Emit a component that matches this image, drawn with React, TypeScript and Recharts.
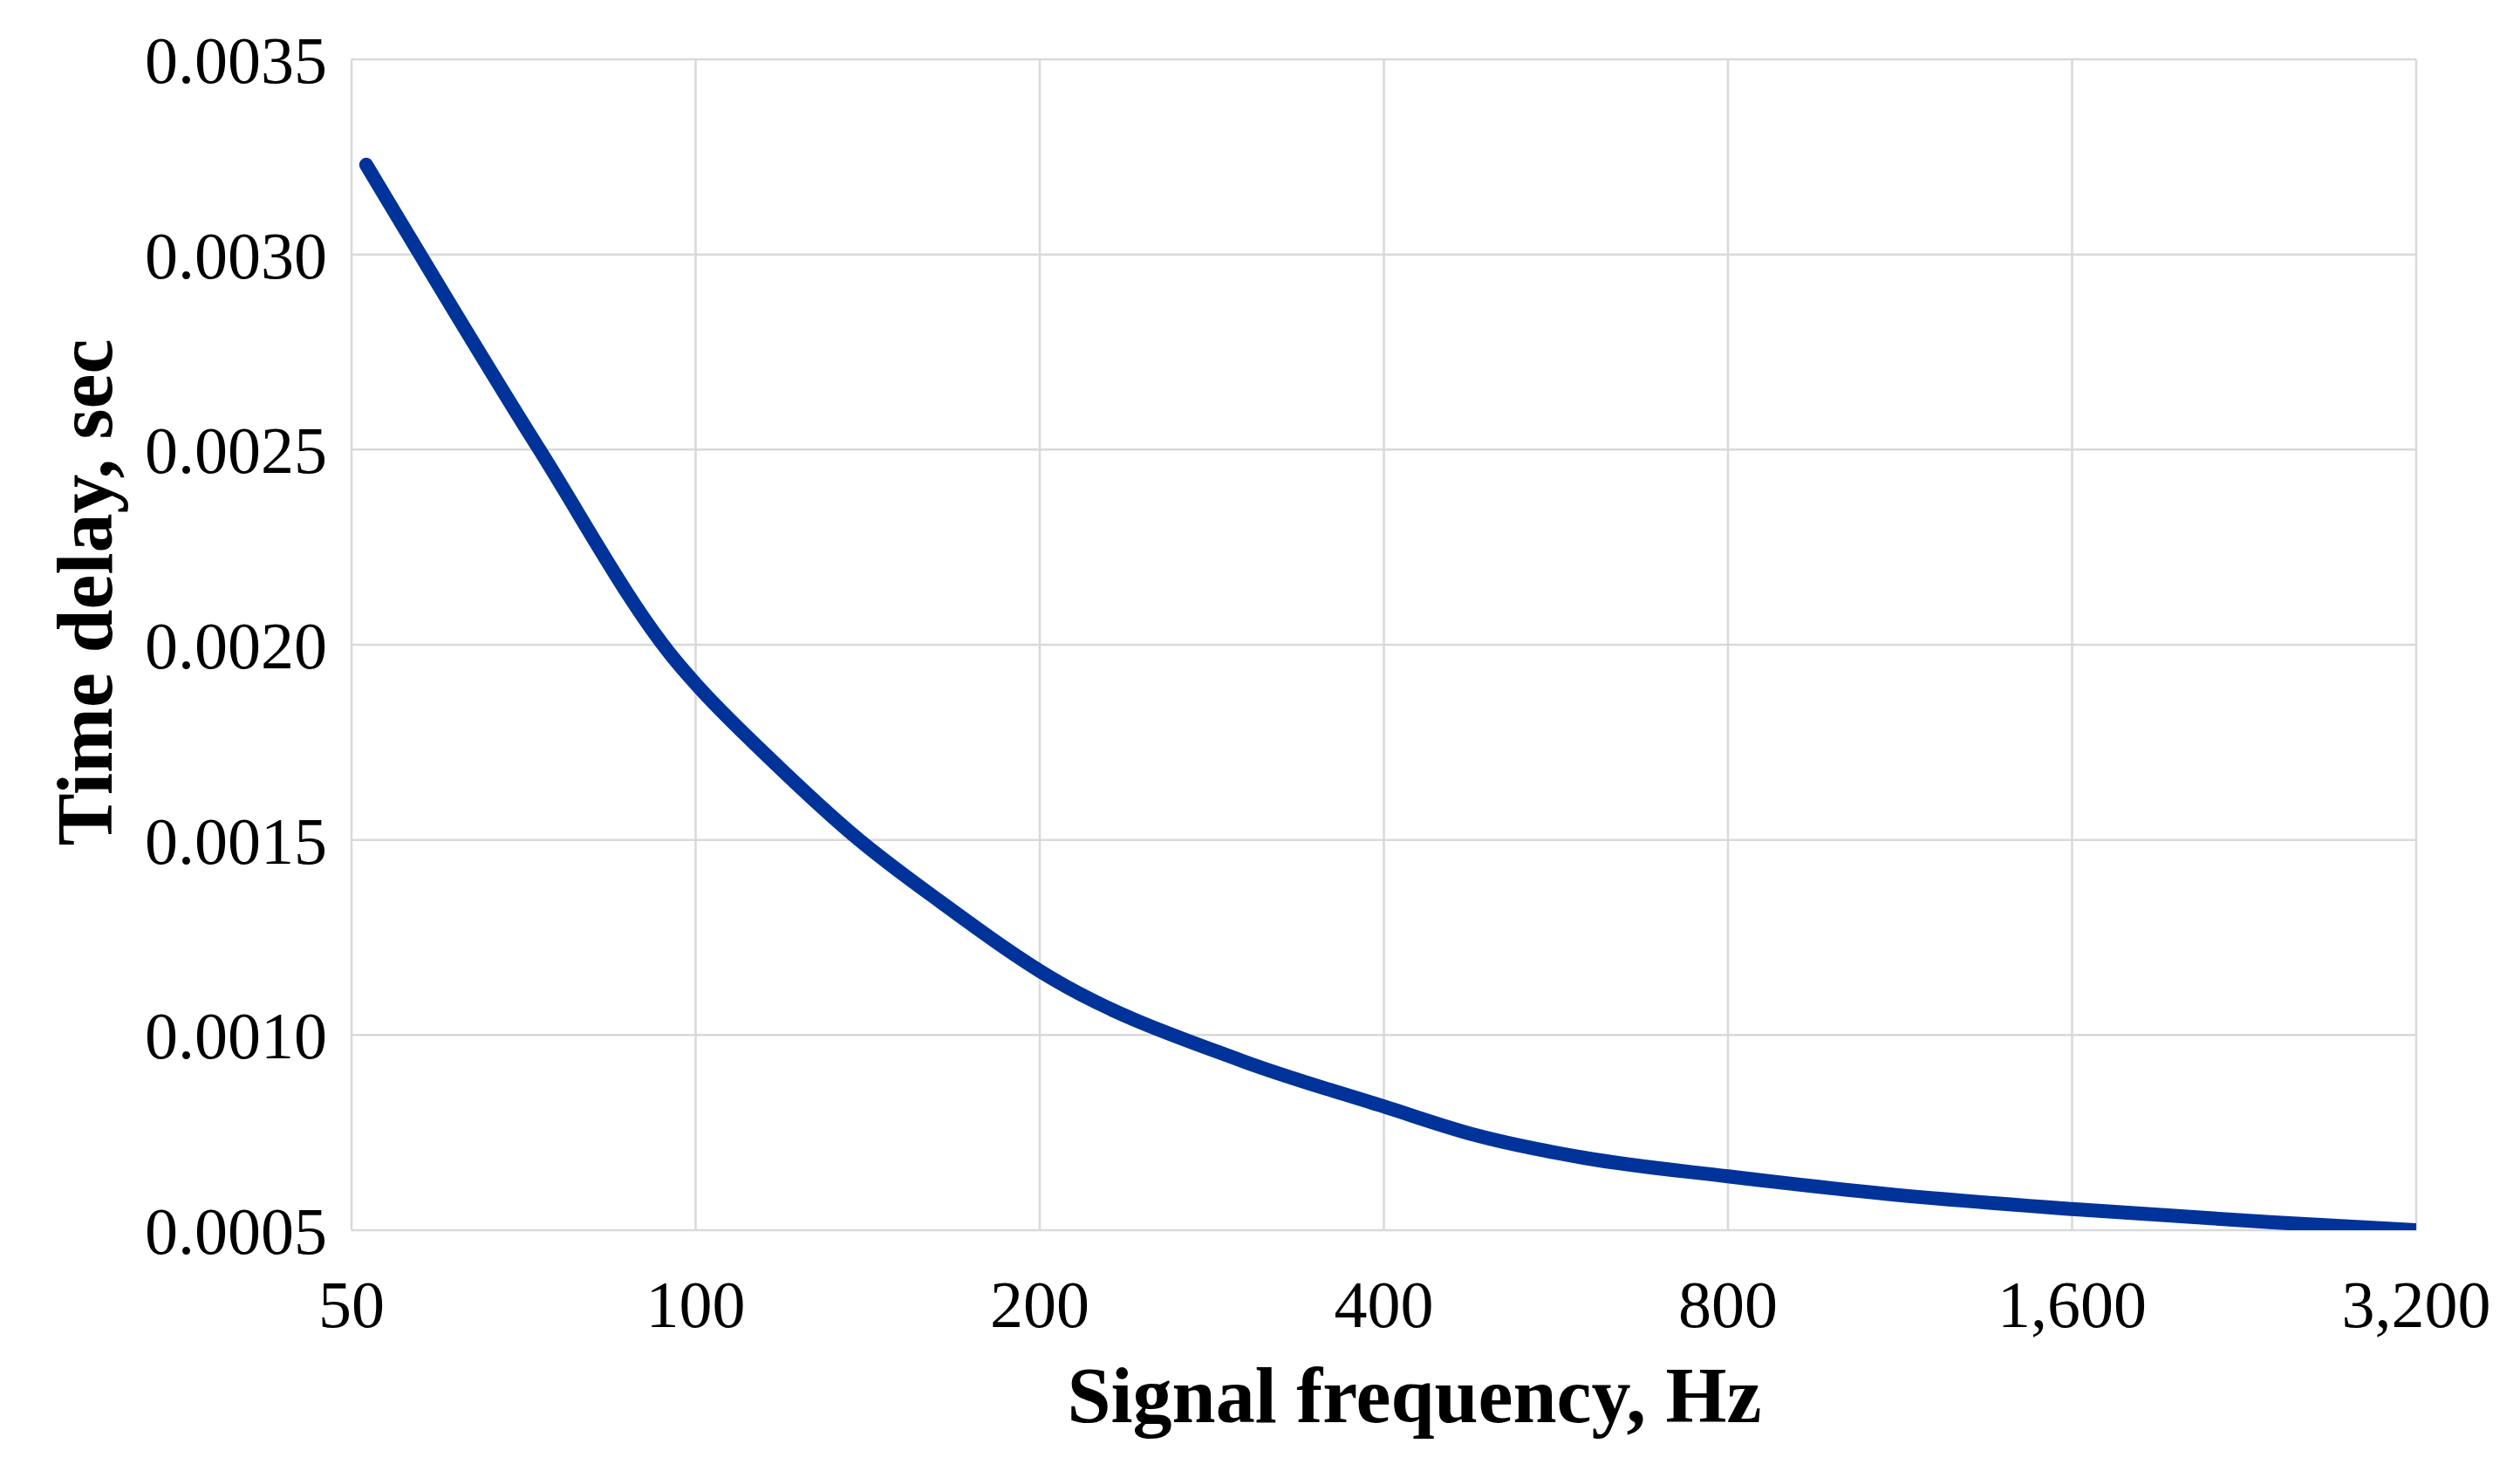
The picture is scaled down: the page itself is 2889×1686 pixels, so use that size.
import React from 'react';
import { LineChart, Line, XAxis, YAxis, CartesianGrid, Label } from 'recharts';

const FREQUENCIES = [51.5, 73, 96, 100, 116, 139, 164, 205, 300, 400, 482, 600, 800, 1100, 1600, 2400, 3200];
const DELAYS = [0.00323, 0.0025, 0.00196, 0.0019, 0.00171, 0.0015, 0.00134, 0.001145, 0.000935, 0.000817, 0.000743, 0.000685, 0.000638, 0.000593, 0.000554, 0.00052, 0.0005];

const X_TICKS = [50, 100, 200, 400, 800, 1600, 3200];
const Y_TICKS = [0.0005, 0.001, 0.0015, 0.002, 0.0025, 0.003, 0.0035];

const data = FREQUENCIES.map((f, i) => ({ freq: f, delay: DELAYS[i] }));

const FONT = '"Liberation Serif", "Times New Roman", serif';
const tickStyle = { fontFamily: FONT, fontSize: 76, fill: '#000' };

export default function App() {
  return (
    <div style={{ position: 'absolute', left: 0, top: 0, width: 2889, height: 1686, background: '#fff' }}>
      <LineChart width={2889} height={1686} data={data} margin={{ top: 68, right: 119, bottom: 0, left: 0 }}>
        <CartesianGrid stroke="#d9d9d9" strokeWidth={2.5} />
        <XAxis
          dataKey="freq"
          type="number"
          scale="log"
          domain={[50, 3200]}
          ticks={X_TICKS}
          allowDataOverflow
          axisLine={false}
          tickLine={false}
          tickSize={8}
          tickMargin={49}
          height={276}
          tick={tickStyle}
          tickFormatter={(v: number) => v.toLocaleString('en-US')}
        >
          <Label
            content={({ viewBox }: any) => (
              <text
                x={viewBox.x + viewBox.width / 2 + 35}
                y={viewBox.y + 220}
                textAnchor="middle"
                fontFamily={FONT}
                fontWeight="bold"
                fontSize={90}
                fill="#000"
              >
                Signal frequency, Hz
              </text>
            )}
          />
        </XAxis>
        <YAxis
          type="number"
          domain={[0.0005, 0.0035]}
          ticks={Y_TICKS}
          allowDataOverflow
          axisLine={false}
          tickLine={false}
          tickSize={8}
          tickMargin={20}
          width={403}
          tick={tickStyle}
          tickFormatter={(v: number) => v.toFixed(4)}
        >
          <Label
            content={({ viewBox }: any) => {
              const x = 128;
              const y = viewBox.y + viewBox.height / 2 - 60;
              return (
                <text
                  x={x}
                  y={y}
                  transform={`rotate(-90, ${x}, ${y})`}
                  textAnchor="middle"
                  fontFamily={FONT}
                  fontWeight="bold"
                  fontSize={90}
                  fill="#000"
                >
                  Time delay, sec
                </text>
              );
            }}
          />
        </YAxis>
        <Line
          type="monotoneX"
          dataKey="delay"
          stroke="#003399"
          strokeWidth={16}
          strokeLinecap="round"
          strokeLinejoin="round"
          dot={false}
          activeDot={false}
          isAnimationActive={false}
        />
      </LineChart>
    </div>
  );
}
